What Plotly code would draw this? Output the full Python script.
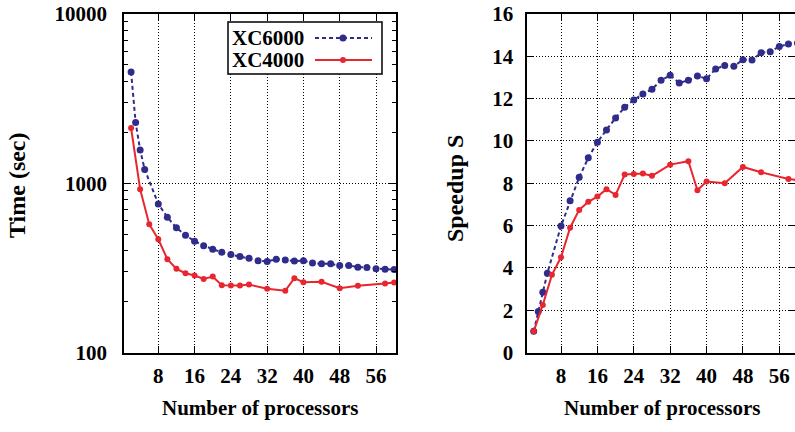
import plotly.graph_objects as go

# ---------------- data ----------------
procs_6000 = [2, 3, 4, 5] + list(range(8, 61, 2))
time_6000 = [4545, 2286, 1574, 1206, 755, 630, 545, 493, 455, 428, 408, 391, 379, 369,
             361, 349, 345, 356, 352, 347, 349, 338, 334, 334, 327, 327, 319, 318, 313,
             310, 309]
speedup_6000 = [1.0, 1.94, 2.85, 3.75, 5.98, 7.17, 8.28, 9.2, 9.94, 10.52, 11.09, 11.59,
                11.94, 12.22, 12.44, 12.87, 13.10, 12.74, 12.87, 13.07, 12.94, 13.40,
                13.57, 13.53, 13.84, 13.83, 14.17, 14.22, 14.46, 14.58, 14.62]

procs_4000 = [2, 4, 6, 8, 10, 12, 14, 16, 18, 20, 22, 24, 26, 28, 32, 36, 38, 40, 44,
              48, 52, 58, 60]
time_4000 = [2120, 922, 573, 467, 356, 312, 294, 285, 272, 281, 250, 249, 249, 252, 238,
             232, 275, 260, 262, 240, 248, 256, 259]
speedup_4000 = [1.0, 2.25, 3.67, 4.5, 5.9, 6.74, 7.12, 7.37, 7.72, 7.45, 8.41, 8.44, 8.46,
                8.35, 8.88, 9.04, 7.67, 8.08, 8.0, 8.77, 8.52, 8.2, 8.15]

x_ticks = [8, 16, 24, 32, 40, 48, 56]
time_ticks = [100, 1000, 10000]
time_minor = [200, 300, 400, 500, 600, 700, 800, 900,
              2000, 3000, 4000, 5000, 6000, 7000, 8000, 9000]
speed_ticks = [0, 2, 4, 6, 8, 10, 12, 14, 16]
series_names = ["XC6000", "XC4000"]

# ---------------- style ----------------
W, H = 795, 432
BLUE = "#2f2c8c"
RED = "#e8262f"
FONT = "Liberation Serif"


def px(x):
    return x / W


def py(y):
    return 1 - y / H


fig = go.Figure()

fig.add_trace(go.Scatter(x=procs_6000, y=time_6000, mode="lines+markers",
                         line=dict(color=BLUE, width=2, dash="4px,3px"),
                         marker=dict(color=BLUE, size=7), xaxis="x", yaxis="y",
                         showlegend=False))
fig.add_trace(go.Scatter(x=procs_4000, y=time_4000, mode="lines+markers",
                         line=dict(color=RED, width=2),
                         marker=dict(color=RED, size=6), xaxis="x", yaxis="y",
                         showlegend=False))
fig.add_trace(go.Scatter(x=procs_6000, y=speedup_6000, mode="lines+markers",
                         line=dict(color=BLUE, width=2, dash="4px,3px"),
                         marker=dict(color=BLUE, size=7), xaxis="x2", yaxis="y2",
                         showlegend=False))
fig.add_trace(go.Scatter(x=procs_4000, y=speedup_4000, mode="lines+markers",
                         line=dict(color=RED, width=2),
                         marker=dict(color=RED, size=6), xaxis="x2", yaxis="y2",
                         showlegend=False))

tickfont = dict(family=FONT, size=21, color="black", weight="bold")
common_axis = dict(showline=True, linecolor="black", linewidth=1.5, mirror="ticks",
                   ticks="inside", tickcolor="black", tickwidth=1, ticklen=7,
                   tickfont=tickfont, zeroline=False, automargin=False,
                   showgrid=True, gridcolor="black", gridwidth=1, griddash="1px,2px")

left_dom = [px(124), px(396)]
right_dom = [px(527.3), 1.0]
ydom = [py(352.5), py(14)]

fig.update_layout(
    width=W, height=H,
    margin=dict(l=0, r=0, t=0, b=0),
    paper_bgcolor="white", plot_bgcolor="white",
    xaxis=dict(domain=left_dom, range=[0.44, 60.41], tickvals=x_ticks,
               anchor="y", ticklabelstandoff=4, **common_axis),
    yaxis=dict(domain=ydom, type="log", range=[2, 4], tickvals=time_ticks,
               ticktext=[str(v) for v in time_ticks], anchor="x",
               ticklabelstandoff=11,
               minor=dict(tickvals=time_minor, ticks="inside", ticklen=4,
                          tickcolor="black", showgrid=False),
               **common_axis),
    xaxis2=dict(domain=right_dom, range=[0.59, 59.45], tickvals=x_ticks,
                anchor="y2", ticklabelstandoff=4, **common_axis),
    yaxis2=dict(domain=ydom, range=[0, 16], tickvals=speed_ticks, anchor="x2",
                ticklabelstandoff=8, **common_axis),
)

# axis titles
titlefont_h = dict(family=FONT, size=21, color="black", weight="bold")
titlefont_v = dict(family=FONT, size=24, color="black", weight="bold")
fig.add_annotation(text="Number of processors", x=px(260), y=py(408), xref="paper",
                   yref="paper", showarrow=False, font=titlefont_h,
                   xanchor="center", yanchor="middle")
fig.add_annotation(text="Number of processors", x=px(662), y=py(408), xref="paper",
                   yref="paper", showarrow=False, font=titlefont_h,
                   xanchor="center", yanchor="middle")
fig.add_annotation(text="Time (sec)", x=px(17), y=py(185), xref="paper", yref="paper",
                   showarrow=False, font=titlefont_v, textangle=-90,
                   xanchor="center", yanchor="middle")
fig.add_annotation(text="Speedup S", x=px(455), y=py(189), xref="paper", yref="paper",
                   showarrow=False, font=titlefont_v, textangle=-90,
                   xanchor="center", yanchor="middle")

# legend (text left, sample right, boxed)
fig.add_shape(type="rect", xref="paper", yref="paper", x0=px(228), x1=px(382),
              y0=py(74), y1=py(22), line=dict(color="black", width=1.5),
              fillcolor="white", layer="above")
legend_rows = [(38, BLUE, "4px,3px", 7), (60, RED, "solid", 6)]
for name, (yy, col, dash, ms) in zip(series_names, legend_rows):
    fig.add_annotation(text=name, x=px(230), y=py(yy), xref="paper", yref="paper",
                       showarrow=False, xanchor="left", yanchor="middle",
                       font=dict(family=FONT, size=21, color="black", weight="bold"))
    fig.add_shape(type="line", xref="paper", yref="paper", x0=px(315), x1=px(372),
                  y0=py(yy), y1=py(yy), line=dict(color=col, width=2, dash=dash),
                  layer="above")
    r = ms / 2
    fig.add_shape(type="circle", xref="paper", yref="paper", x0=px(343 - r),
                  x1=px(343 + r), y0=py(yy + r), y1=py(yy - r),
                  line=dict(color=col, width=0), fillcolor=col, layer="above")

fig.write_html("out.html")
